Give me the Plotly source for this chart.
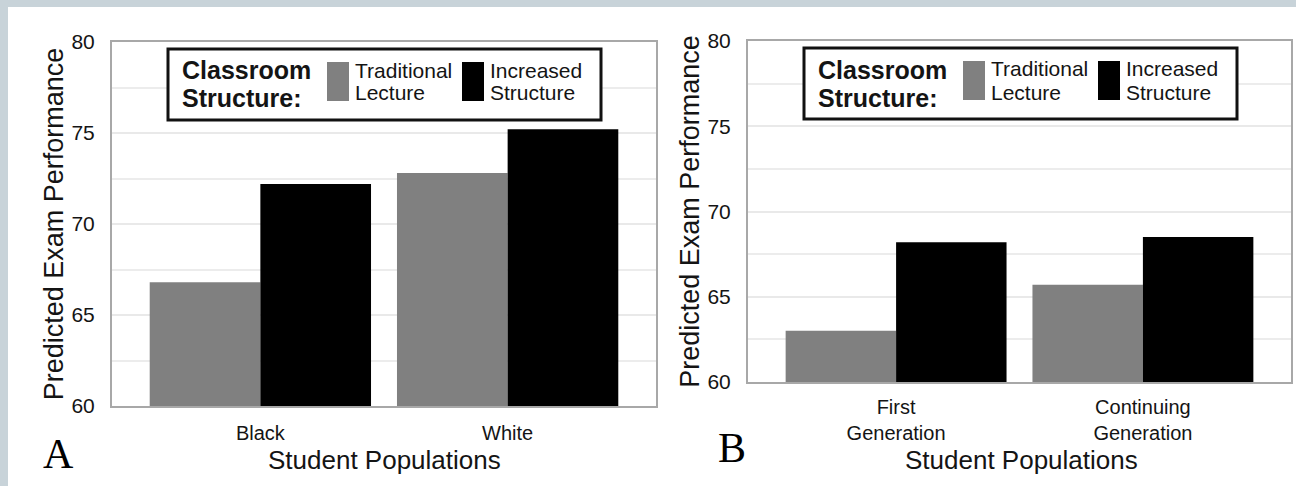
import plotly.graph_objects as go

# ---------------- data ----------------
groups_a = ["Black", "White"]
groups_b = ["First<br>Generation", "Continuing<br>Generation"]
series_names = ["Traditional Lecture", "Increased Structure"]
legend_lines = [["Traditional", "Lecture"], ["Increased", "Structure"]]
legend_title_lines = ["Classroom", "Structure:"]
trad_a = [66.8, 72.8]
inc_a = [72.2, 75.2]
trad_b = [63.0, 65.7]
inc_b = [68.2, 68.5]
y_ticks = [60, 65, 70, 75, 80]
panel_labels = ["A", "B"]
x_title = "Student Populations"
y_title = "Predicted Exam Performance"

# ---------------- style ----------------
W, H = 1296, 486
GRAY = "#808080"
BLACK = "#000000"
SANS = "Liberation Sans, Arial, sans-serif"
SERIF = "Liberation Serif, Times New Roman, serif"
TXT = "#141414"
colors = [GRAY, BLACK]

def px(x):
    return x / W

def py(y):
    return 1 - y / H

# plot areas in pixels (left, top, right, bottom)
areas = [(112, 42, 656, 406), (748, 41, 1291, 382)]
x_title_pos = [(384, 459.5), (1021, 460)]
panel_label_pos = [(58, 454), (732, 448)]
tick_standoffs = [8, 6]

fig = go.Figure()

data_sets = [
    (groups_a, [trad_a, inc_a], "x", "y"),
    (groups_b, [trad_b, inc_b], "x2", "y2"),
]
for groups, vals, xa, ya in data_sets:
    for i, v in enumerate(vals):
        fig.add_trace(go.Bar(
            x=groups, y=v, name=series_names[i], marker_color=colors[i],
            marker_line_width=0, xaxis=xa, yaxis=ya, showlegend=False,
        ))

axis_common_y = dict(
    range=[60, 80], tickvals=y_ticks, showgrid=True, gridcolor="#e9e9e9", gridwidth=1.5,
    minor=dict(dtick=2.5, tick0=60, showgrid=True, gridcolor="#ececec", gridwidth=1.5),
    showline=True, mirror=True, linecolor="#a8a8a8", linewidth=2, zeroline=False,
    ticks="", tickfont=dict(family=SANS, size=21, color=TXT), ticklabelstandoff=11,
    title=dict(text=y_title, font=dict(family=SANS, size=27, color=TXT), standoff=0),
    automargin=False,
)
axis_common_x = dict(
    type="category", range=[-0.6, 1.6], showgrid=False,
    showline=True, mirror=True, linecolor="#a8a8a8", linewidth=2, zeroline=False,
    ticks="", tickfont=dict(family=SANS, size=20, color=TXT),
    automargin=False,
)

l, t, r, b = areas[0]
fig.update_layout(
    xaxis=dict(domain=[px(l), px(r)], anchor="y", ticklabelstandoff=tick_standoffs[0], **axis_common_x),
    yaxis=dict(domain=[py(b), py(t)], anchor="x", **axis_common_y),
)
l, t, r, b = areas[1]
fig.update_layout(
    xaxis2=dict(domain=[px(l), px(r)], anchor="y2", ticklabelstandoff=tick_standoffs[1], **axis_common_x),
    yaxis2=dict(domain=[py(b), py(t)], anchor="x2", **axis_common_y),
)

shapes = [
    # white content area inside the grey frame
    dict(type="rect", xref="paper", yref="paper", x0=px(8), x1=1, y0=0, y1=py(7),
         fillcolor="white", line_width=0, layer="below"),
]
annotations = []

for k, (l, t, r, b) in enumerate(areas):
    # legend box
    shapes.append(dict(type="rect", xref="paper", yref="paper",
                       x0=px(l + 56), x1=px(l + 489), y0=py(t + 7), y1=py(t + 78),
                       line=dict(color="#111111", width=3), fillcolor="white"))
    # swatches
    for i, sx in enumerate([215, 350]):
        shapes.append(dict(type="rect", xref="paper", yref="paper",
                           x0=px(l + sx), x1=px(l + sx + 22), y0=py(t + 20), y1=py(t + 59),
                           line_width=0, fillcolor=colors[i]))
        for j, line in enumerate(legend_lines[i]):
            annotations.append(dict(xref="paper", yref="paper", x=px(l + sx + 26),
                                    y=py(t + 28 + j * 23), xanchor="left", yanchor="middle",
                                    text=line, showarrow=False,
                                    font=dict(family=SANS, size=21, color=TXT)))
    for j, line in enumerate(legend_title_lines):
        annotations.append(dict(xref="paper", yref="paper", x=px(l + 68),
                                y=py(t + 28.5 + j * 28), xanchor="left", yanchor="middle",
                                text="<b>" + line + "</b>", showarrow=False,
                                font=dict(family=SANS, size=25, color=TXT)))
    # x axis title
    tx, ty = x_title_pos[k]
    annotations.append(dict(xref="paper", yref="paper", x=px(tx), y=py(ty), text=x_title,
                            showarrow=False, xanchor="center", yanchor="middle",
                            font=dict(family=SANS, size=26, color=TXT)))
    # panel letter
    lx, ly = panel_label_pos[k]
    annotations.append(dict(xref="paper", yref="paper", x=px(lx), y=py(ly), text=panel_labels[k],
                            showarrow=False, xanchor="center", yanchor="middle",
                            font=dict(family=SERIF, size=42, color="#000")))

fig.update_layout(
    width=W, height=H, margin=dict(l=0, r=0, t=0, b=0),
    paper_bgcolor="#c8d3d9", plot_bgcolor="white",
    barmode="group", bargap=0.105, bargroupgap=0,
    shapes=shapes, annotations=annotations, showlegend=False,
)

fig.write_html("out.html", config={"displayModeBar": False},
               post_script="document.body.style.margin='0';document.body.style.overflow='hidden';")
